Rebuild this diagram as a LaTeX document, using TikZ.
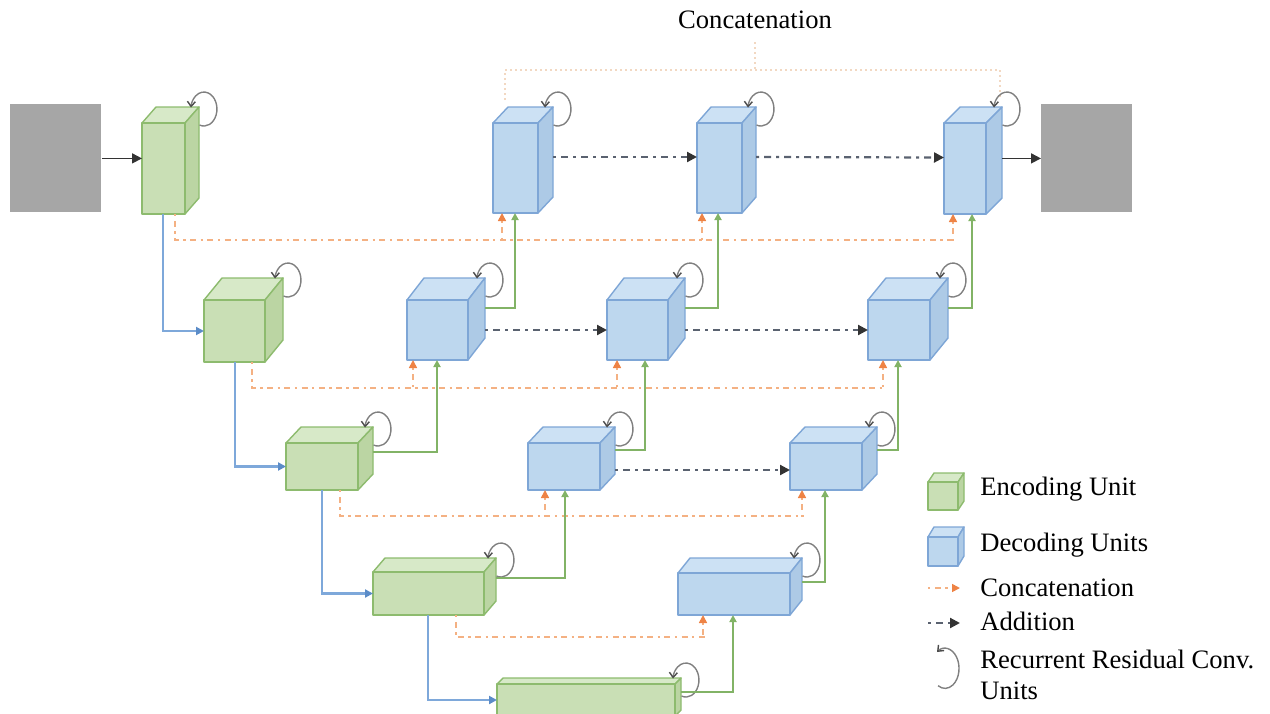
\documentclass[tikz,border=0pt]{standalone}
\usepackage{fontspec}
\setmainfont{Liberation Serif}
\usetikzlibrary{arrows.meta,calc}
\definecolor{encfront}{HTML}{C9DFB5}
\definecolor{enctop}{HTML}{D7E9C8}
\definecolor{encside}{HTML}{BBD5A3}
\definecolor{encedge}{HTML}{8DBB6E}
\definecolor{decfront}{HTML}{BDD7EE}
\definecolor{dectop}{HTML}{CCE1F4}
\definecolor{decside}{HTML}{ADCAE6}
\definecolor{decedge}{HTML}{7EA6D6}
\definecolor{bluln}{HTML}{7EA8DA}
\definecolor{blutip}{HTML}{5B8CC8}
\definecolor{grnln}{HTML}{82B366}
\definecolor{catln}{HTML}{F4B183}
\definecolor{cattip}{HTML}{EE8345}
\definecolor{addln}{HTML}{5A6270}
\definecolor{imgray}{HTML}{A6A6A6}
\definecolor{brk}{HTML}{F2D8C2}
\newcommand{\ucube}[8]{%
  \path[#8face, fill=#8top] (#2,#3) -- ++(#6,-#7) -- ++(#4,0) -- ++(-#6,#7) -- cycle;
  \path[#8face, fill=#8side] (#2+#4,#3) -- ++(#6,-#7) -- ++(0,#5) -- ++(-#6,#7) -- cycle;
  \node[#8face, fill=#8front, inner sep=0pt, outer sep=0pt, minimum width=#4*0.5pt,
        minimum height=#5*0.5pt, anchor=north west] (#1) at (#2,#3) {};
}
\newcommand{\rrl}[3]{%
  \draw[rrloop] ($(#1.north east)+(#2+0.5,-#3+18)$)
    arc[start angle=250, end angle=535, x radius=6.5pt, y radius=8.5pt];
}
\begin{document}
\begin{tikzpicture}[x=0.5pt,y=-0.5pt,
  encface/.style={draw=encedge, line width=0.7pt, line join=round},
  decface/.style={draw=decedge, line width=0.7pt, line join=round},
  rrloop/.style={draw=black!50, line width=0.7pt, -{Straight Barb[length=2.5pt,width=4pt,color=black!70]}},
  blk/.style={draw=black!80, line width=0.8pt, -{Triangle[length=5pt,width=5pt]}},
  blu/.style={draw=bluln, line width=1.1pt, -{Triangle[length=4pt,width=4pt,color=blutip]}},
  grn/.style={draw=grnln, line width=1.2pt, -{Triangle[length=3.5pt,width=3.5pt]}},
  cat/.style={draw=catln, line width=0.8pt, dash pattern=on 1.2pt off 2.2pt on 3pt off 2.2pt},
  cattap/.style={cat, {Triangle[length=4pt,width=4pt,color=cattip]}-},
  add/.style={draw=addln, line width=1.1pt, dash pattern=on 1.5pt off 2.5pt on 3.5pt off 2.5pt,
     -{Triangle[length=5pt,width=5pt,color=black!80]}},
  brkln/.style={draw=brk, line width=0.8pt, dash pattern=on 1pt off 1.5pt},
  txt/.style={font=\fontsize{13.3}{15.5}\selectfont, inner sep=0pt}]
\useasboundingbox (0,0) rectangle (1270,713);
\clip (0,0) rectangle (1270,713);

% title and bracket
\node[txt, anchor=base] (ttl) at (755,28) {Concatenation};
\draw[brkln] (505,100) -- (505,70) -- (1000,70) -- (1000,100);
\draw[brkln] (ttl.south |- 0,42) -- (ttl.south |- 0,70);

% input / output images
\node[fill=imgray, inner sep=0pt, minimum width=45.5pt, minimum height=54pt, anchor=north west] (inp) at (10,104) {};
\node[fill=imgray, inner sep=0pt, minimum width=45.5pt, minimum height=54pt, anchor=north west] (out) at (1041,104) {};

% concatenation bus ends
\coordinate (bus1) at (955,240);
\coordinate (bus2) at (885,388);
\coordinate (bus3) at (804,516);
\coordinate (bus4) at (705,637);

% cubes
\ucube{E1}{142}{123}{43}{91}{14}{16}{enc}
\ucube{E2}{204}{300}{61}{62}{18}{22}{enc}
\ucube{E3}{286}{443}{72}{47}{15}{16}{enc}
\ucube{E4}{373}{572}{111}{43}{12}{14}{enc}
\ucube{E5}{497}{684}{178}{32}{6}{6}{enc}
\ucube{D1a}{493}{123}{45}{90}{15}{16}{dec}
\ucube{D1b}{697}{123}{45}{90}{14}{16}{dec}
\ucube{D1c}{944}{123}{42}{91}{16}{16}{dec}
\ucube{D2a}{407}{300}{61}{60}{17}{22}{dec}
\ucube{D2b}{607}{300}{61}{60}{17}{22}{dec}
\ucube{D2c}{868}{300}{62}{60}{18}{22}{dec}
\ucube{D3a}{528}{443}{72}{47}{15}{16}{dec}
\ucube{D3b}{790}{443}{72}{47}{15}{16}{dec}
\ucube{D4a}{678}{573}{112}{42}{12}{15}{dec}

% recurrent loops
\rrl{E1}{14}{16}
\rrl{E2}{18}{22}
\rrl{E3}{15}{16}
\rrl{E4}{12}{14}
\rrl{E5}{6}{6}
\rrl{D1a}{15}{16}
\rrl{D1b}{14}{16}
\rrl{D1c}{16}{16}
\rrl{D2a}{17}{22}
\rrl{D2b}{17}{22}
\rrl{D2c}{18}{22}
\rrl{D3a}{15}{16}
\rrl{D3b}{15}{16}
\rrl{D4a}{12}{15}

% input / output arrows
\draw[blk] (inp.east) -- (inp.east -| E1.west);
\draw[blk] ($(D1c.east |- out.west)+(16,0)$) -- (out.west);

% encoder down path
\draw[blu] ([xshift=10.5pt]E1.south west) |- (E2.west);
\draw[blu] ([xshift=15.5pt]E2.south west) |- (E3.west);
\draw[blu] ([xshift=18pt]E3.south west) |- (E4.west);
\draw[blu] ([xshift=27.5pt]E4.south west) |- (E5.west);

% concatenation
\draw[cat] ([xshift=16.5pt]E1.south west) |- (bus1);
\draw[cat] ([xshift=24pt]E2.south west) |- (bus2);
\draw[cat] ([xshift=27pt]E3.south west) |- (bus3);
\draw[cat] ([xshift=41.5pt]E4.south west) |- (bus4);
\draw[cattap] ([xshift=4.5pt]D1a.south west) -- ++(0,28);
\draw[cattap] ([xshift=2.5pt]D1b.south west) -- ++(0,28);
\draw[cattap] ([xshift=4.5pt]D1c.south west) -- ++(0,27);
\draw[cattap] ([xshift=3pt]D2a.south west) -- ++(0,29);
\draw[cattap] ([xshift=5pt]D2b.south west) -- ++(0,29);
\draw[cattap] ([xshift=7.5pt]D2c.south west) -- ++(0,29);
\draw[cattap] ([xshift=8.5pt]D3a.south west) -- ++(0,27);
\draw[cattap] ([xshift=6pt]D3b.south west) -- ++(0,27);
\draw[cattap] ([xshift=12.5pt]D4a.south west) -- ++(0,23);

% upsampling (green)
\draw[grn] ($(D2a.north east)+(17,8)$) -| ([xshift=11pt]D1a.south west);
\draw[grn] ($(D2b.north east)+(17,8)$) -| ([xshift=10.5pt]D1b.south west);
\draw[grn] ($(D2c.north east)+(18,8)$) -| ([xshift=14pt]D1c.south west);
\draw[grn] ($(E3.north east)+(15,9)$) -| ([xshift=15pt]D2a.south west);
\draw[grn] ($(D3a.north east)+(15,7)$) -| ([xshift=19pt]D2b.south west);
\draw[grn] ($(D3b.north east)+(15,7)$) -| ([xshift=15pt]D2c.south west);
\draw[grn] ($(E4.north east)+(12,6)$) -| ([xshift=18.5pt]D3a.south west);
\draw[grn] ($(D4a.north east)+(12,9)$) -| ([xshift=17.5pt]D3b.south west);
\draw[grn] ($(E5.north east)+(6,8)$) -| ([xshift=27.5pt]D4a.south west);

% addition
\draw[add] ($(D1a.east)+(15,-11)$) -- ($(D1b.west)+(0,-11)$);
\draw[add] ($(D1b.east)+(14,-11)$) -- ($(D1c.west)+(0,-11)$);
\draw[add] ($(D2a.east)+(17,0)$) -- (D2b.west);
\draw[add] ($(D2b.east)+(17,0)$) -- (D2c.west);
\draw[add] ($(D3a.east)+(15,3.5)$) -- ($(D3b.west)+(0,3.5)$);

% legend
\ucube{LE}{928}{482}{30}{28}{6}{9}{enc}
\ucube{LD}{928}{537}{30}{29}{6}{10}{dec}
\node[txt, anchor=base west] (lt1) at (980,495) {Encoding Unit};
\node[txt, anchor=base west] (lt2) at (980,551) {Decoding Units};
\node[txt, anchor=base west] (lt3) at (980,596) {Concatenation};
\node[txt, anchor=base west] (lt4) at (980,630) {Addition};
\node[txt, anchor=north west, align=left] (lt5) at (980,650) {Recurrent Residual Conv.\\Units};
\coordinate (lc1) at (928,588);
\coordinate (lc2) at (928,623);
\draw[cat, -{Triangle[length=4pt,width=4pt,color=cattip]}] (lc1) -- ($(lc1 -| lt3.west)+(-20,0)$);
\draw[add] (lc2) -- ($(lc2 -| lt4.west)+(-20,0)$);
\draw[rrloop, {Straight Barb[length=2.5pt,width=4pt,color=black!70]}-] (937,652) arc[start angle=125, end angle=-120, x radius=7pt, y radius=10pt];
\end{tikzpicture}
\end{document}
